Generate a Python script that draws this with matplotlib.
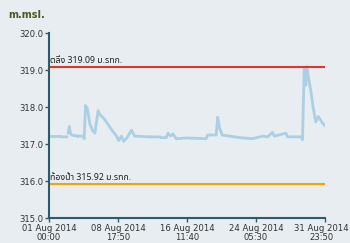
import numpy as np
import matplotlib
matplotlib.use('Agg')
import matplotlib.pyplot as plt
import matplotlib.transforms as mtransforms

# water level, days since 01 Aug 2014 00:00 (NaN = missing data)
days = [0.11, 1.23, np.nan, 1.42, 1.98, np.nan, 2.16, 2.27, 2.42, 2.53, 3.2, np.nan,
        3.3, 3.84, 3.95, 4.10, 4.32, 4.59, 4.88, 5.15, 5.51, 5.78, 6.08, 6.45,
        7.01, 7.57, 7.83, 8.13, 8.39, 8.76, 9.25, 9.62, 11.3, np.nan, 11.5, 12.4,
        np.nan, 12.6, 13.17, 13.35, 13.65, 13.91, 14.28, 15.4, 17.64, 17.82, 18.76,
        18.94, 19.13, 19.43, 21.37, 22.86, 23.97, 24.53, 25.09, 25.28, 26.59,
        26.77, 28.27, 28.45, 28.64, 28.83, 28.94, 29.12, 29.39, 29.64, 29.94,
        30.23, 30.61, 30.98]
level = [317.21, 317.21, np.nan, 317.2, 317.2, np.nan, 317.3, 317.48, 317.3, 317.25, 317.22, np.nan,
         317.22, 317.22, 317.15, 318.05, 317.95, 317.55, 317.37, 317.3, 317.91, 317.78, 317.72, 317.6,
         317.4, 317.22, 317.1, 317.22, 317.08, 317.18, 317.38, 317.22, 317.2, np.nan, 317.2, 317.2,
         np.nan, 317.18, 317.18, 317.3, 317.22, 317.28, 317.15, 317.17, 317.15, 317.25, 317.25,
         317.73, 317.45, 317.25, 317.18, 317.15, 317.22, 317.2, 317.32, 317.22, 317.3,
         317.2, 317.2, 317.12, 319.05, 318.6, 319.1, 318.8, 318.44, 318.0, 317.6,
         317.75, 317.6, 317.5]

bank = 319.09
bed = 315.92
xticks = [0, 7.743, 15.486, 23.229, 30.993]
xlabels = ['01 Aug 2014\n00:00', '08 Aug 2014\n17:50', '16 Aug 2014\n11:40',
           '24 Aug 2014\n05:30', '31 Aug 2014\n23:50']
yticks = [315.0, 316.0, 317.0, 318.0, 319.0, 320.0]

thai = ['Noto Sans Thai', 'Loma', 'Garuda', 'Tlwg Typo', 'DejaVu Sans', 'Noto Sans']
bg = '#e7edf0'
spine = '#2e5b6b'

fig = plt.figure(figsize=(3.5, 2.43), dpi=100, facecolor=bg)
ax = fig.add_axes([0.14, 0.102, 0.789, 0.761], facecolor=bg)

ax.plot(days, level, color='#abd0e6', lw=2.0)
ax.axhline(bank, color='#e8322b', lw=1.5)
ax.axhline(bed, color='#f4a300', lw=1.5)
ax.text(0.15, bank + 0.05, 'ตลิ่ง 319.09 ม.รทก.', fontsize=6.3, color='#222222',
        family=thai, va='bottom')
ax.text(0.15, bed + 0.05, 'ท้องน้ำ 315.92 ม.รทก.', fontsize=6.3, color='#222222',
        family=thai, va='bottom')

ax.set_xlim(0, 30.993)
ax.set_ylim(315, 320)
ax.set_xticks(xticks)
ax.set_xticklabels(xlabels, linespacing=1.05)
ax.set_yticks(yticks)
ax.set_yticklabels(['%.1f' % t for t in yticks])
ax.tick_params(labelsize=6.1, colors=spine, labelcolor='#333333', length=3, width=1, pad=1)
for s in ['top', 'right']:
    ax.spines[s].set_visible(False)
for s in ['left', 'bottom']:
    ax.spines[s].set_color(spine)
    ax.spines[s].set_linewidth(1.5)

# keep the last date label inside the picture
last = ax.get_xticklabels()[-1]
last.set_transform(last.get_transform() +
                   mtransforms.ScaledTranslation(-4 / 100, 0, fig.dpi_scale_trans))

fig.text(0.023, 0.925, 'm.msl.', fontsize=7, fontweight='bold', color='#4a5a26')

plt.savefig('out.png', dpi=100, facecolor=bg)
